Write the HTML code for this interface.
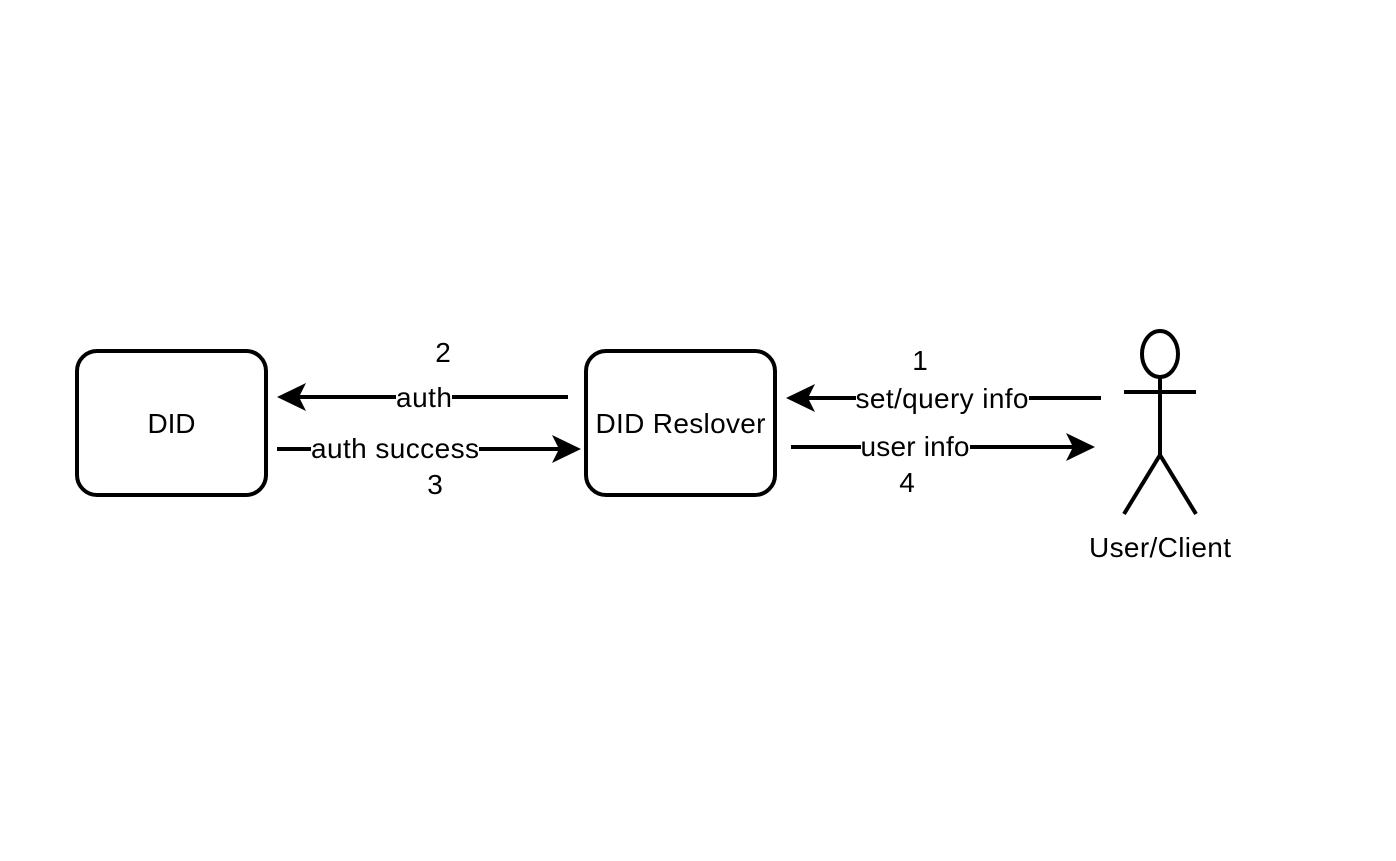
<!DOCTYPE html>
<html><head><meta charset="utf-8"><style>
html,body{margin:0;padding:0;background:#fff;}
svg text{font-family:"Liberation Sans",Arial,sans-serif;font-size:28px;fill:#000;}
</style></head><body>
<svg width="1396" height="856" viewBox="0 0 1396 856" xmlns="http://www.w3.org/2000/svg">
<rect width="1396" height="856" fill="#fff"/>
<g fill="#fff" stroke="#000" stroke-width="4">
<rect x="77" y="351" width="189" height="144" rx="20"/>
<rect x="586" y="351" width="189" height="144" rx="20"/>
</g>
<text x="171.5" y="433" text-anchor="middle" textLength="48">DID</text>
<text x="680.5" y="433" text-anchor="middle" textLength="170">DID Reslover</text>
<g stroke="#000" stroke-width="4" fill="none">
<line x1="568" y1="397" x2="290" y2="397"/>
<line x1="277" y1="449" x2="568" y2="449"/>
<line x1="1101" y1="398" x2="799" y2="398"/>
<line x1="791" y1="447" x2="1082" y2="447"/>
</g>
<g fill="#000">
<path d="M277,397 L306,383 L299,397 L306,411 Z"/>
<path d="M581,449 L552,435 L559,449 L552,463 Z"/>
<path d="M786,398 L815,384 L808,398 L815,412 Z"/>
<path d="M1095,447 L1066,433 L1073,447 L1066,461 Z"/>
</g>
<g fill="#fff">
<rect x="396" y="382" width="56" height="30"/>
<rect x="311" y="433" width="168" height="30"/>
<rect x="856" y="382" width="173" height="30"/>
<rect x="861" y="431" width="109" height="30"/>
</g>
<text x="424" y="407" text-anchor="middle" textLength="56">auth</text>
<text x="395" y="458" text-anchor="middle" textLength="168">auth success</text>
<text x="942" y="408" text-anchor="middle" textLength="173">set/query info</text>
<text x="915" y="456" text-anchor="middle" textLength="109">user info</text>
<text x="443" y="362" text-anchor="middle">2</text>
<text x="435" y="494" text-anchor="middle">3</text>
<text x="920" y="370" text-anchor="middle">1</text>
<text x="907" y="492" text-anchor="middle">4</text>
<g stroke="#000" stroke-width="4" fill="none">
<ellipse cx="1160" cy="354" rx="18" ry="23"/>
<line x1="1124" y1="392" x2="1196" y2="392"/>
<line x1="1160" y1="377" x2="1160" y2="455"/>
<line x1="1160" y1="455" x2="1124" y2="514"/>
<line x1="1160" y1="455" x2="1196" y2="514"/>
</g>
<text x="1160" y="557" text-anchor="middle" textLength="142">User/Client</text>
</svg>
</body></html>
